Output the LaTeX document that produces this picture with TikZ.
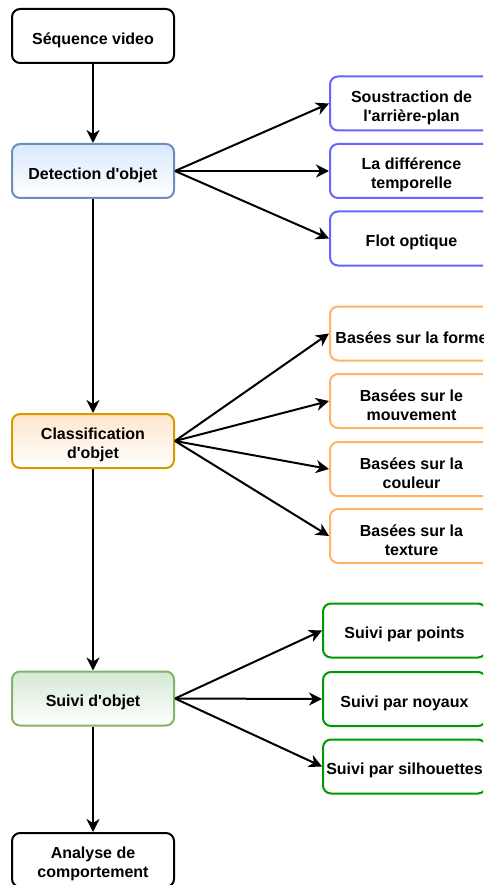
\documentclass[tikz,border=0pt]{standalone}
\usepackage{fontspec}
\setmainfont{Liberation Sans}[Ligatures=TeXOff]
\usetikzlibrary{arrows.meta}
\definecolor{blueFill}{HTML}{DAE8FC}
\definecolor{blueLine}{HTML}{6C8EBF}
\definecolor{orangeFill}{HTML}{FFE6CC}
\definecolor{orangeLine}{HTML}{D79B00}
\definecolor{greenFill}{HTML}{D5E8D4}
\definecolor{greenLine}{HTML}{82B366}
\definecolor{methodBlue}{HTML}{6666FF}
\definecolor{methodOrange}{HTML}{FFB366}
\definecolor{methodGreen}{HTML}{009900}
\tikzset{
  box/.style={draw, line width=2pt, rounded corners=8pt, minimum width=162pt,
    minimum height=54pt, inner sep=0pt},
  label text/.style={align=center, inner sep=0pt,
    font=\fontsize{16}{19}\selectfont\bfseries},
  stage/.style={box, fill=white},
  detect/.style={box, draw=blueLine, top color=blueFill, bottom color=white},
  classify/.style={box, draw=orangeLine, top color=orangeFill, bottom color=white},
  track/.style={box, draw=greenLine, top color=greenFill, bottom color=white},
  bluemethod/.style={box, draw=methodBlue, fill=white, minimum width=163pt},
  orangemethod/.style={box, draw=methodOrange, fill=white, minimum width=163pt},
  greenmethod/.style={box, draw=methodGreen, fill=white, minimum width=163pt},
  flow/.style={line width=2pt, -{Stealth[length=13pt,width=13pt,inset=4pt]}},
}
% a framed box with its caption set slightly below the geometric centre
\newcommand\boxed[4]{%
  \node[#1] (#2) at (#3) {};
  \node[label text] (#2-t) at ([yshift=-4pt]#2.center) {#4};
}
\begin{document}
\begin{tikzpicture}[x=1pt,y=-1pt]
\clip (0,0) rectangle (483,885);
\useasboundingbox (0,0) rectangle (483,885);

% main pipeline
\boxed{stage}{seq}{93,36}{Séquence video}
\boxed{detect}{det}{93,171}{Detection d'objet}
\boxed{classify}{cls}{93,441}{Classification\\d'objet}
\boxed{track}{suivi}{93,698.5}{Suivi d'objet}
\boxed{stage}{ana}{93,860}{Analyse de\\comportement}

% detection methods
\boxed{bluemethod}{sous}{411.5,103.5}{Soustraction de\\l'arrière-plan}
\boxed{bluemethod}{diff}{411.5,171}{La différence\\temporelle}
\boxed{bluemethod}{flot}{411.5,238.5}{Flot optique}

% classification methods
\boxed{orangemethod}{forme}{411.5,333.5}{Basées sur la forme}
\boxed{orangemethod}{mouv}{411.5,401}{Basées sur le\\mouvement}
\boxed{orangemethod}{coul}{411.5,469}{Basées sur la\\couleur}
\boxed{orangemethod}{text}{411.5,536}{Basées sur la\\texture}

% tracking methods
\boxed{greenmethod}{pts}{404.5,630.5}{Suivi par points}
\boxed{greenmethod}{noy}{404.5,699}{Suivi par noyaux}
\boxed{greenmethod}{silh}{404.5,766.5}{Suivi par silhouettes}

% pipeline arrows
\draw[flow] (seq) -- (det);
\draw[flow] (det) -- (cls);
\draw[flow] (cls) -- (suivi);
\draw[flow] (suivi) -- (ana);

% branch arrows
\foreach \t in {sous,diff,flot} \draw[flow] (det.east) -- (\t.west);
\foreach \t in {forme,mouv,coul,text} \draw[flow] (cls.east) -- (\t.west);
\foreach \t in {pts,noy,silh} \draw[flow] (suivi.east) -- (\t.west);
\end{tikzpicture}
\end{document}
